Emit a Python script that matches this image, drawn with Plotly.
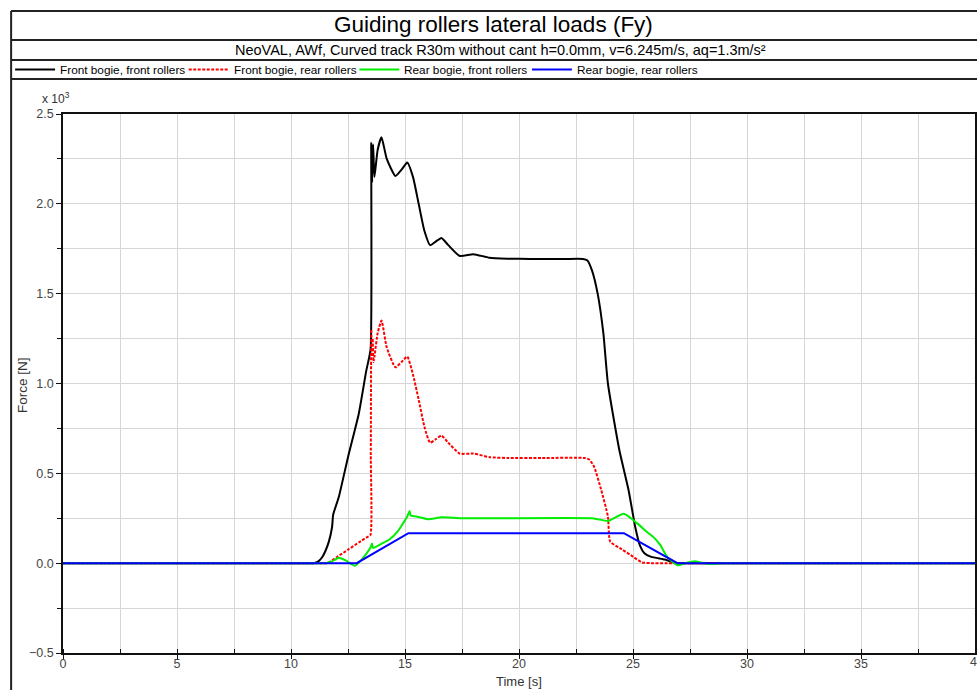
import plotly.graph_objects as go

# ---- data (force in x10^3 N, time in s) ----
t_ff = [0, 10.0, 10.8, 11.0, 11.2, 11.35, 11.5, 11.66, 11.8, 11.85, 12.1, 12.5, 12.97, 13.3, 13.49,
        13.52, 13.56, 13.60, 13.66, 13.8, 13.97, 14.2, 14.58, 14.85, 15.1, 15.35,
        15.6, 15.85, 16.1, 16.35, 16.6, 16.9, 17.4, 18.0, 18.7, 19.5, 20.5, 22.0,
        22.8, 23.0, 23.2, 23.45, 23.7, 23.9, 24.4, 24.8, 25.1, 25.3, 25.5, 25.8, 26.4,
        26.9, 27.5, 29.0, 40]
f_ff = [0, 0, 0, 0, 0.01, 0.03, 0.065, 0.12, 0.2, 0.27, 0.37, 0.59, 0.83, 1.07, 1.19,
        2.34, 2.12, 2.33, 2.15, 2.3, 2.37, 2.25, 2.155, 2.19, 2.23, 2.15,
        2.0, 1.85, 1.77, 1.79, 1.81, 1.77, 1.71, 1.72, 1.70, 1.695, 1.693, 1.693,
        1.693, 1.685, 1.63, 1.50, 1.28, 1.00, 0.63, 0.41, 0.20, 0.10, 0.055, 0.035, 0.02,
        0, 0, 0, 0]

t_fr = [0, 10.0, 11.2, 11.6, 12.0, 12.5, 13.0, 13.3, 13.48, 13.50, 13.52, 13.55, 13.58, 13.62,
        13.66, 13.8, 13.97, 14.2, 14.58, 14.85, 15.1, 15.35, 15.6, 15.85, 16.1, 16.35,
        16.6, 16.9, 17.4, 18.0, 18.7, 19.5, 21.0, 22.9, 23.1, 23.3, 23.6, 23.9, 24.0,
        24.5, 25.0, 25.4, 25.8, 26.5, 28.0, 40]
f_fr = [0, 0, 0, 0, 0.033, 0.075, 0.117, 0.142, 0.156, 0.6, 1.30, 1.15, 1.25, 1.12,
        1.15, 1.28, 1.35, 1.2, 1.09, 1.12, 1.15, 1.05, 0.91, 0.76, 0.67, 0.69,
        0.71, 0.67, 0.61, 0.61, 0.59, 0.585, 0.585, 0.585, 0.575, 0.535, 0.41, 0.26, 0.12,
        0.078, 0.036, 0.004, 0, 0, 0, 0]

t_rf = [0, 10.0, 11.2, 11.5, 11.8, 12.1, 12.4, 12.8, 13.1, 13.4, 13.5, 13.55, 13.6, 14.0,
        14.3, 14.7, 15.1, 15.2, 15.25, 15.5, 16.0, 16.6, 17.5, 23.2, 23.45, 23.9, 24.6,
        25.2, 25.6, 25.9, 26.2, 26.5, 26.95, 27.3, 27.7, 28.1, 28.4, 29.0, 30.0, 40]
f_rf = [0, 0, 0, 0, 0.01, 0.03, 0.015, -0.015, 0.02, 0.07, 0.09, 0.11, 0.085, 0.11,
        0.13, 0.18, 0.26, 0.29, 0.265, 0.26, 0.245, 0.255, 0.25, 0.25, 0.245, 0.235, 0.275,
        0.22, 0.175, 0.145, 0.10, 0.035, -0.012, 0.0, 0.01, 0.0, -0.005, 0, 0, 0]

t_rr = [0, 12.88, 15.15, 24.6, 26.95, 40]
f_rr = [0, 0, 0.167, 0.167, 0, 0]

series_names = ["Front bogie, front rollers", "Front bogie, rear rollers",
                "Rear bogie, front rollers", "Rear bogie, rear rollers"]
x_ticks = [0, 5, 10, 15, 20, 25, 30, 35, 40]
y_ticks = [-0.5, 0.0, 0.5, 1.0, 1.5, 2.0, 2.5]

# ---- layout constants (pixels) ----
W, H = 977, 690
L, T, B = 63, 114, 37
PW, PH = W - L, H - T - B

def px(x):
    return (x - L) / PW

def py(y):
    return (H - B - y) / PH

FONT = "Liberation Sans, Arial, sans-serif"
styles = [dict(color="#000000", width=2, dash="solid"),
          dict(color="#ff0000", width=2, dash="3px,1.5px"),
          dict(color="#00ee00", width=2, dash="solid"),
          dict(color="#0000ff", width=2, dash="solid")]
shapes_line = ["spline", "spline", "spline", "linear"]

fig = go.Figure()
for name, tt, ff, st, sh in zip(series_names, [t_ff, t_fr, t_rf, t_rr],
                                [f_ff, f_fr, f_rf, f_rr], styles, shapes_line):
    fig.add_trace(go.Scatter(x=tt, y=ff, mode="lines", name=name,
                             line=dict(**st, shape=sh, smoothing=0.5 if sh == "spline" else None),
                             showlegend=False))

shapes = []
ann = []
frame = dict(color="#222222", width=2)
shapes.append(dict(type="line", xref="paper", yref="paper", x0=px(11), x1=px(11),
                   y0=py(11), y1=py(H + 5), line=frame))
for yy in [11, 40, 60, 79]:
    shapes.append(dict(type="line", xref="paper", yref="paper", x0=px(11), x1=px(W + 5),
                       y0=py(yy), y1=py(yy), line=frame))

ann.append(dict(text="Guiding rollers lateral loads (Fy)", xref="paper", yref="paper",
                x=px(494), y=py(25), showarrow=False, xanchor="center", yanchor="middle",
                font=dict(family=FONT, size=22.5, color="#000")))
ann.append(dict(text="NeoVAL, AWf, Curved track R30m without cant h=0.0mm, v=6.245m/s, aq=1.3m/s²",
                xref="paper", yref="paper", x=px(501), y=py(50), showarrow=False,
                xanchor="center", yanchor="middle",
                font=dict(family=FONT, size=14.5, color="#000")))

leg_x = [15, 189, 360, 533]
for name, st, lx in zip(series_names, styles, leg_x):
    shapes.append(dict(type="line", xref="paper", yref="paper", x0=px(lx), x1=px(lx + 40),
                       y0=py(69.5), y1=py(69.5),
                       line=dict(color=st["color"], width=2, dash=st["dash"])))
    ann.append(dict(text=name, xref="paper", yref="paper", x=px(lx + 43), y=py(69.5),
                    showarrow=False, xanchor="left", yanchor="middle",
                    font=dict(family=FONT, size=11.8, color="#000")))

ann.append(dict(text="x 10<sup>3</sup>", xref="paper", yref="paper", x=px(56), y=py(98),
                showarrow=False, xanchor="center", yanchor="middle",
                font=dict(family=FONT, size=12, color="#333")))
ann.append(dict(text="Force [N]", xref="paper", yref="paper", x=px(22), y=py(385),
                showarrow=False, textangle=-90, xanchor="center", yanchor="middle",
                font=dict(family=FONT, size=13.5, color="#333")))
ann.append(dict(text="Time [s]", xref="paper", yref="paper", x=px(520), y=py(681),
                showarrow=False, xanchor="center", yanchor="middle",
                font=dict(family=FONT, size=13, color="#333")))
# last x tick label, partly cut by the page edge as in the reference
ann.append(dict(text="40", xref="paper", yref="paper", x=px(979), y=py(662),
                showarrow=False, xanchor="center", yanchor="middle",
                font=dict(family=FONT, size=12.5, color="#444")))

grid = "#d6d6d6"
fig.update_layout(
    width=W, height=H, margin=dict(l=L, r=0, t=T, b=B, pad=0),
    paper_bgcolor="white", plot_bgcolor="white",
    font=dict(family=FONT, size=12, color="#444"),
    shapes=shapes, annotations=ann,
    xaxis=dict(range=[0, 40], tickvals=x_ticks[:-1], ticktext=[str(v) for v in x_ticks[:-1]],
               showgrid=True, gridcolor=grid, gridwidth=1, zeroline=False,
               showline=True, linecolor="#111", linewidth=1.5, mirror=True,
               ticks="outside", ticklen=4, tickcolor="#111", ticklabelstandoff=-6,
               minor=dict(dtick=2.5, tick0=0, showgrid=True, gridcolor=grid,
                          ticks="inside", ticklen=4, tickcolor="#111"),
               tickfont=dict(family=FONT, size=12.5, color="#444")),
    yaxis=dict(range=[-0.5, 2.5], tickvals=y_ticks, tickformat=".1f",
               showgrid=True, gridcolor=grid, gridwidth=1, zeroline=False,
               showline=True, linecolor="#111", linewidth=1.5, mirror=True,
               ticks="outside", ticklen=5, tickcolor="#111",
               minor=dict(dtick=0.25, tick0=0, showgrid=True, gridcolor=grid,
                          ticks="outside", ticklen=4, tickcolor="#111"),
               tickfont=dict(family=FONT, size=12.5, color="#444")),
)

fig.write_html("out.html", config={"displayModeBar": False},
               post_script="document.body.style.margin='0';")
